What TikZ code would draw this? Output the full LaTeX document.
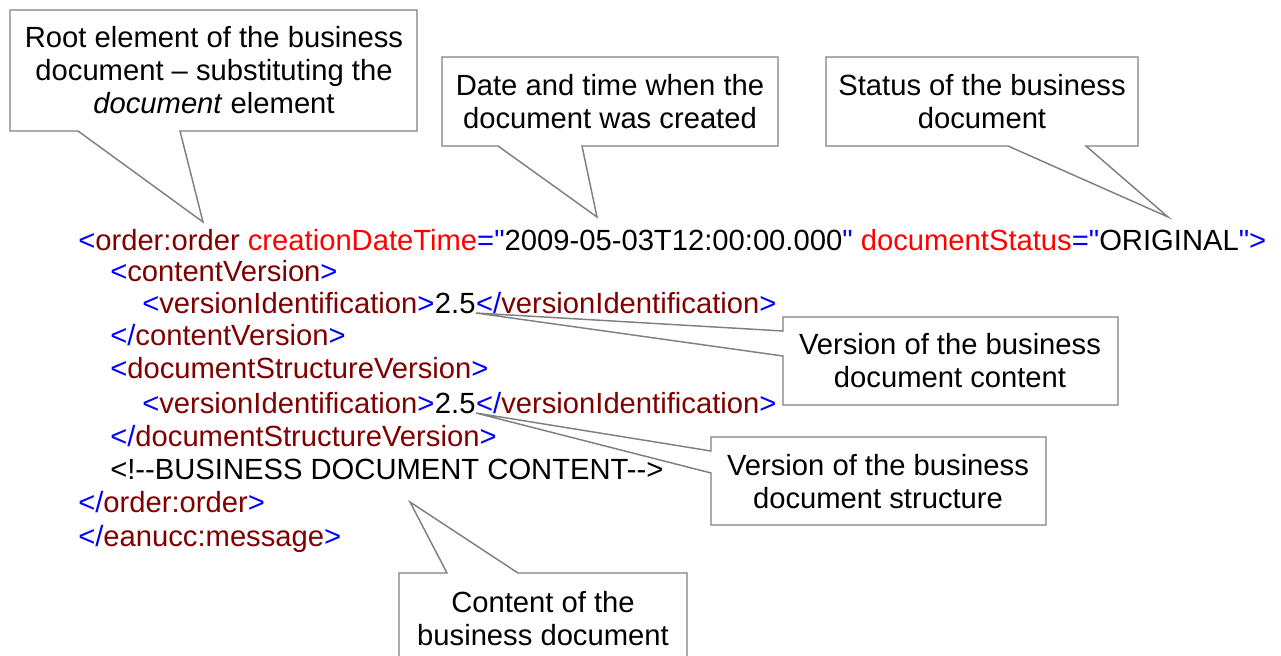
\documentclass[tikz,border=0pt]{standalone}
\usepackage{fontspec}
\setmainfont{Liberation Sans}
\definecolor{xmlpunct}{RGB}{0,0,255}
\definecolor{xmlelem}{RGB}{128,0,0}
\definecolor{xmlattr}{RGB}{255,0,0}
\definecolor{calloutline}{RGB}{128,128,128}
% XML syntax colouring
\newcommand\xP[1]{\textcolor{xmlpunct}{#1}}
\newcommand\xE[1]{\textcolor{xmlelem}{#1}}
\newcommand\xA[1]{\textcolor{xmlattr}{#1}}
% straight double quote, set as a glyph so no TeX ligature turns it curly
\newcommand\sq{\XeTeXglyph\XeTeXcharglyph"0022\relax}
\begin{document}
\begin{tikzpicture}[x=0.75pt,y=-0.75pt,
  txt/.style={font=\fontsize{21.9}{24.75}\selectfont},
  xmlline/.style={txt,anchor=base west,inner sep=0pt},
  note/.style={txt,align=center,inner sep=0pt},
  callout/.style={draw=calloutline,fill=white,line width=1.1pt,line join=miter}]
\useasboundingbox (0,0) rectangle (1281,656);
\clip (0,0) rectangle (1281,656);

% XML listing
\node[xmlline] (l1) at (78,250) {\xP{<}\xE{order:order} \xA{creationDateTime}\xP{=\sq}2009-05-03T12:00:00.000\xP{\sq} \xA{documentStatus}\xP{=\sq}ORIGINAL\xP{\sq>}};
\node[xmlline] (l2) at (110,281) {\xP{<}\xE{contentVersion}\xP{>}};
\node[xmlline] (v1tag) at (142,313) {\xP{<}\xE{versionIdentification}\xP{>}};
\node[xmlline] (v1val) at (v1tag.base east) {2.5};
\node[xmlline] (v1end) at (v1val.base east) {\xP{</}\xE{versionIdentification}\xP{>}};
\node[xmlline] (l4) at (110,345) {\xP{</}\xE{contentVersion}\xP{>}};
\node[xmlline] (l5) at (110,378) {\xP{<}\xE{documentStructureVersion}\xP{>}};
\node[xmlline] (v2tag) at (142,413) {\xP{<}\xE{versionIdentification}\xP{>}};
\node[xmlline] (v2val) at (v2tag.base east) {2.5};
\node[xmlline] (v2end) at (v2val.base east) {\xP{</}\xE{versionIdentification}\xP{>}};
\node[xmlline] (l7) at (110,446) {\xP{</}\xE{documentStructureVersion}\xP{>}};
\node[xmlline] (l8) at (110,479) {<!-{}-BUSINESS DOCUMENT CONTENT-{}->};
\node[xmlline] (l9) at (78,512) {\xP{</}\xE{order:order}\xP{>}};
\node[xmlline] (l10) at (78,546) {\xP{</}\xE{eanucc:message}\xP{>}};

% callout tips
\coordinate (tipRoot) at (203,222);
\coordinate (tipDate) at (597,217);
\coordinate (tipStatus) at (1168,217);
\coordinate (tipContent) at (410,502);

% callout outlines
\draw[callout] (10,10) -- (417,10) -- (417,131) -- (180,131) -- (tipRoot) -- (78,131) -- (10,131) -- cycle;
\draw[callout] (442,57) -- (778,57) -- (778,146) -- (582,146) -- (tipDate) -- (498,146) -- (442,146) -- cycle;
\draw[callout] (826,57) -- (1138,57) -- (1138,146) -- (1086,146) -- (tipStatus) -- (1008,146) -- (826,146) -- cycle;
\draw[callout] (783,317) -- (1118,317) -- (1118,405) -- (783,405) -- (783,356) -- (v1val.base east) -- (783,331) -- cycle;
\draw[callout] (711,437) -- (1046,437) -- (1046,525) -- (711,525) -- (711,473) -- (v2val.base east) -- (711,451) -- cycle;
\draw[callout] (399,573) -- (447,573) -- (tipContent) -- (518,573) -- (687,573) -- (687,670) -- (399,670) -- cycle;

% callout texts
\node[note] (n1) at (214,70) {Root element of the business\\document -- substituting the\\\textit{document} element};
\node[note] (n2) at (610,102) {Date and time when the\\document was created};
\node[note] (n3) at (982,102) {Status of the business\\document};
\node[note] (n4) at (950,361) {Version of the business\\document content};
\node[note] (n5) at (878,482) {Version of the business\\document structure};
\node[note] (n6) at (543,619) {Content of the\\business document};
\end{tikzpicture}
\end{document}
